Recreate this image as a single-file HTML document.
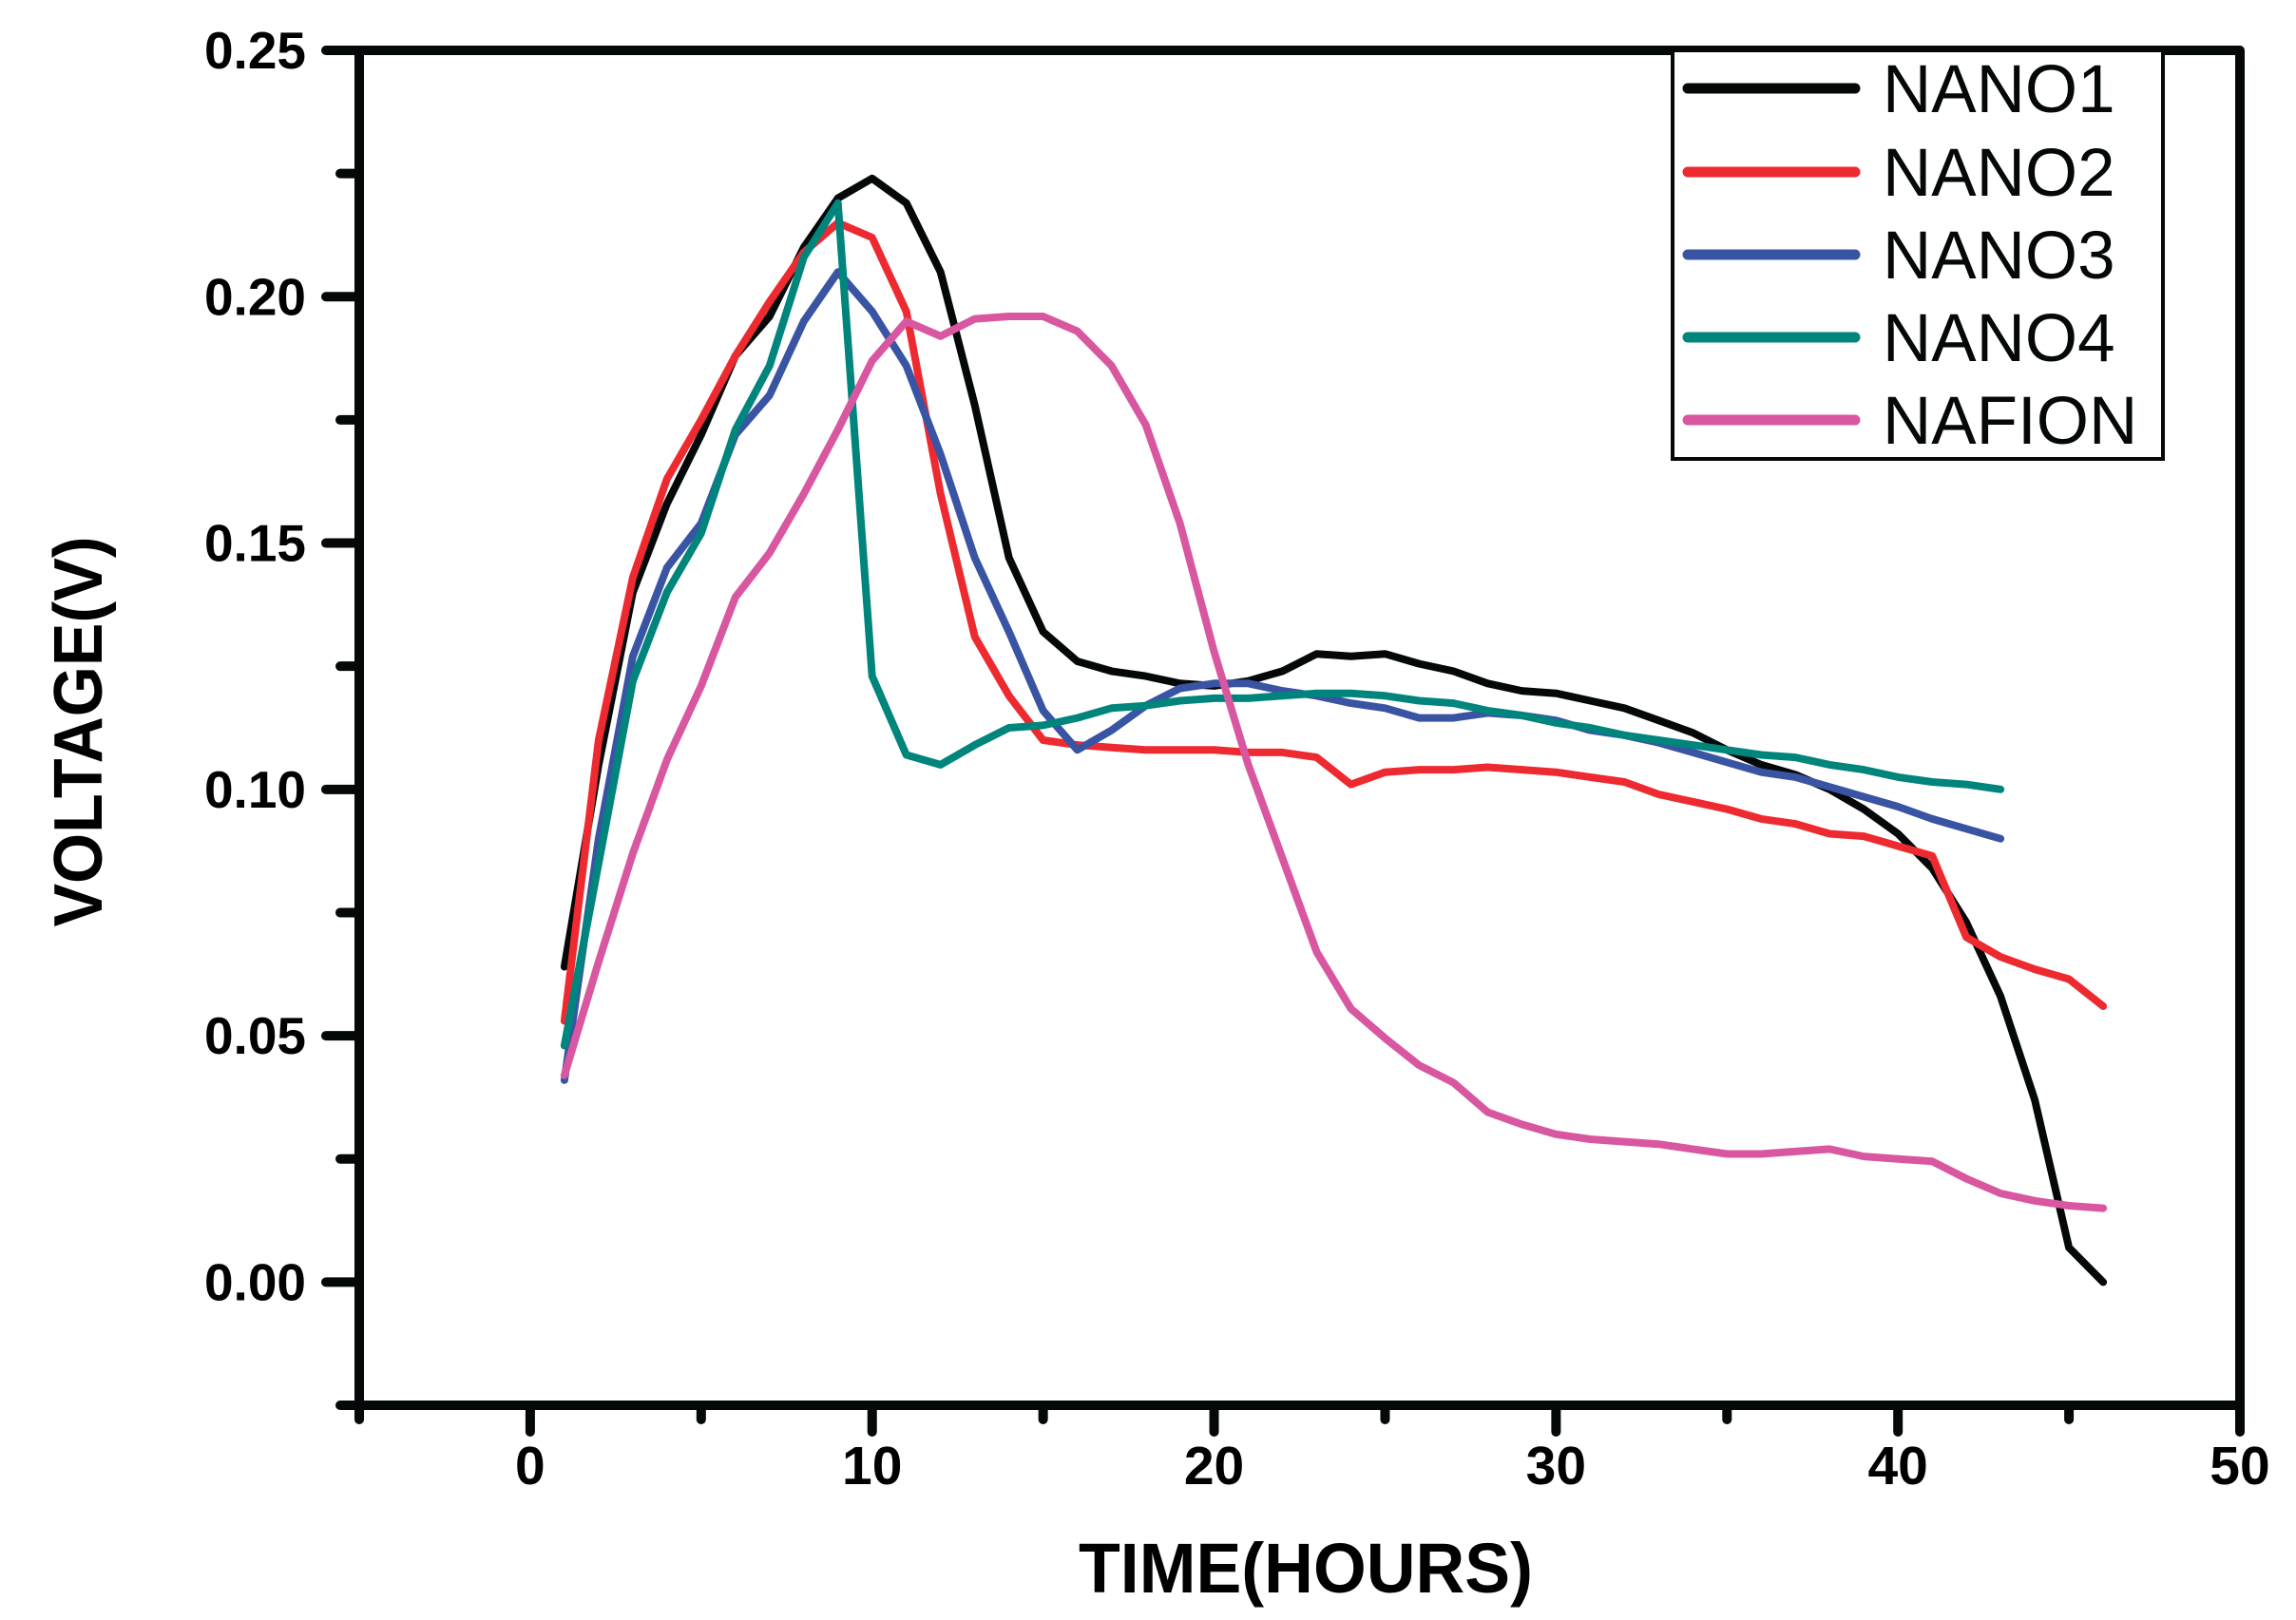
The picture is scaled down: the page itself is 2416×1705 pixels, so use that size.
<!DOCTYPE html>
<html><head><meta charset="utf-8"><style>
html,body{margin:0;padding:0;background:#fff;}
svg{display:block;}
text{font-family:"Liberation Sans",Arial,sans-serif;}
</style></head><body>
<svg id="chart" width="2416" height="1705" viewBox="0 0 2416 1705" xmlns="http://www.w3.org/2000/svg">
<rect width="2416" height="1705" fill="#fff"/>
<g id="series"></g>
<g id="axes"></g>
<g id="legend"></g>
<text x="1374" y="1676" font-size="74" font-weight="bold" text-anchor="middle" textLength="478" lengthAdjust="spacingAndGlyphs">TIME(HOURS)</text>
<text transform="translate(107,770) rotate(-90)" font-size="72" font-weight="bold" text-anchor="middle" textLength="411" lengthAdjust="spacingAndGlyphs">VOLTAGE(V)</text>
</svg>
<script>
const hours = [1,2,3,4,5,6,7,8,9,10,11,12,13,14,15,16,17,18,19,20,21,22,23,24,25,26,27,28,29,30,31,32,33,34,35,36,37,38,39,40,41,42,43,44,45,46];
const nano1 = [0.064,0.105,0.140,0.158,0.172,0.188,0.196,0.210,0.220,0.224,0.219,0.205,0.178,0.147,0.132,0.126,0.124,0.123,0.1215,0.121,0.122,0.124,0.1275,0.127,0.1275,0.1255,0.124,0.1215,0.120,0.1195,0.118,0.1165,0.114,0.1115,0.108,0.105,0.103,0.100,0.096,0.091,0.084,0.073,0.058,0.037,0.007,0.000];
const nano2 = [0.053,0.110,0.143,0.163,0.175,0.188,0.199,0.209,0.215,0.212,0.197,0.160,0.131,0.119,0.110,0.109,0.1085,0.108,0.108,0.108,0.1075,0.1075,0.1065,0.101,0.1035,0.104,0.104,0.1045,0.104,0.1035,0.1025,0.1015,0.099,0.0975,0.096,0.094,0.093,0.091,0.0905,0.0885,0.0865,0.070,0.066,0.0635,0.0615,0.056];
const nano3 = [0.041,0.090,0.127,0.145,0.154,0.172,0.180,0.195,0.205,0.197,0.186,0.168,0.147,0.132,0.116,0.108,0.112,0.117,0.1205,0.1215,0.1215,0.120,0.119,0.1175,0.1165,0.1145,0.1145,0.1155,0.115,0.114,0.112,0.111,0.1095,0.1075,0.1055,0.1035,0.1025,0.1005,0.0985,0.0965,0.094,0.092,0.090];
const nano4 = [0.048,0.085,0.122,0.140,0.152,0.173,0.186,0.208,0.219,0.123,0.107,0.105,0.109,0.1125,0.113,0.1145,0.1165,0.117,0.118,0.1185,0.1185,0.119,0.1195,0.1195,0.119,0.118,0.1175,0.116,0.115,0.1135,0.1125,0.111,0.110,0.109,0.108,0.107,0.1065,0.105,0.104,0.1025,0.1015,0.101,0.100];
const nafion = [0.042,0.065,0.087,0.106,0.121,0.139,0.148,0.160,0.173,0.187,0.195,0.192,0.1955,0.196,0.196,0.193,0.186,0.174,0.154,0.128,0.105,0.086,0.067,0.0555,0.0495,0.044,0.0405,0.0345,0.032,0.030,0.029,0.0285,0.028,0.027,0.026,0.026,0.0265,0.027,0.0255,0.025,0.0245,0.021,0.018,0.0165,0.0155,0.015];
const seriesNames = ["NANO1","NANO2","NANO3","NANO4","NAFION"];
const xTickLabels = ["0","10","20","30","40","50"];
const yTickLabels = ["0.00","0.05","0.10","0.15","0.20","0.25"];

const NS="http://www.w3.org/2000/svg";
const X0=-5,X1=50,Y0=-0.025,Y1=0.25;
const L=378,R=2357,T=53,B=1479;
function xs(v){return L+(v-X0)/(X1-X0)*(R-L);}
function ys(v){return B-(v-Y0)/(Y1-Y0)*(B-T);}
function mk(tag,attrs,parent){const e=document.createElementNS(NS,tag);for(const k in attrs)e.setAttribute(k,attrs[k]);parent.appendChild(e);return e;}

const colors=["#050808","#ee2a31","#3a54a4","#00857c","#d857a0"];
const data=[nano1,nano2,nano3,nano4,nafion];
const sg=document.getElementById('series');
data.forEach((vals,i)=>{
  const pts=vals.map((v,j)=>xs(hours[j]).toFixed(1)+","+ys(v).toFixed(1)).join(" ");
  const p=mk('polyline',{points:pts,fill:"none",stroke:colors[i],"stroke-width":8,"stroke-linejoin":"round","stroke-linecap":"round"},sg);
  
  
});

const ag=document.getElementById('axes');
const frame=mk('rect',{x:L,y:T,width:R-L,height:B-T,fill:"none",stroke:"#050808","stroke-width":10,"stroke-linejoin":"round"},ag);


for(let k=0;k<=11;k++){
  const v=-0.025+k*0.025;
  const major=(k%2===1);
  const y=ys(v);
  const t=mk('line',{x1:L,x2:L-(major?35:20),y1:y,y2:y,stroke:"#050808","stroke-width":10,"stroke-linecap":"round"},ag);
  
  
}
yTickLabels.forEach((lab)=>{
  const v=parseFloat(lab);
  const t=mk('text',{x:322,y:ys(v)+19,"font-size":55,"font-weight":"bold","text-anchor":"end"},ag);
  t.textContent=lab;
  
  
});
for(let k=0;k<=11;k++){
  const v=-5+k*5;
  const major=(k%2===1);
  const x=xs(v);
  const t=mk('line',{x1:x,x2:x,y1:B,y2:B+(major?28:15),stroke:"#050808","stroke-width":10,"stroke-linecap":"round"},ag);
  
  
}
xTickLabels.forEach((lab)=>{
  const v=parseFloat(lab);
  const t=mk('text',{x:xs(v),y:1562,"font-size":57,"font-weight":"bold","text-anchor":"middle"},ag);
  t.textContent=lab;
  
  
});

const lg=document.getElementById('legend');
const box=mk('rect',{x:1760,y:T,width:516,height:430,fill:"#fff",stroke:"#050808","stroke-width":4},lg);


const rowsY=[93,181,268,355,442];
seriesNames.forEach((n,i)=>{
  const ln=mk('line',{x1:1776,x2:1952,y1:rowsY[i],y2:rowsY[i],stroke:colors[i],"stroke-width":11,"stroke-linecap":"round"},lg);
  
  
  const tx=mk('text',{x:1981,y:rowsY[i]+25,"font-size":71,fill:"#050808"},lg);
  tx.textContent=n;
  
  
});
</script>
</body></html>
